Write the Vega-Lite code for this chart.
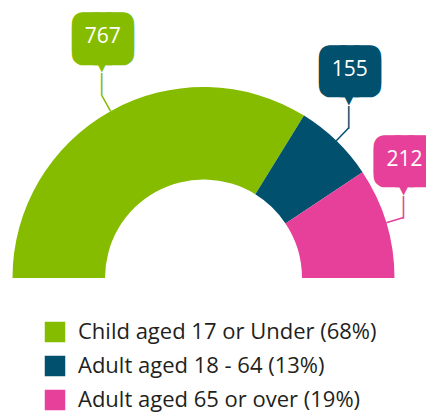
{
  "$schema": "https://vega.github.io/schema/vega-lite/v6.json",
  "width": 407,
  "height": 272,
  "autosize": {"type": "none"},
  "padding": {"left": 0, "top": 142, "right": 19, "bottom": 0},
  "background": "white",
  "config": {"view": {"stroke": null}},
  "data": {
    "values": [
      {"category": "Child aged 17 or Under (68%)", "value": 767, "order": 1},
      {"category": "Adult aged 18 - 64 (13%)", "value": 155, "order": 2},
      {"category": "Adult aged 65 or over (19%)", "value": 212, "order": 3}
    ]
  },
  "encoding": {
    "theta": {"field": "value", "type": "quantitative", "stack": true, "scale": {"range": [-1.5708, 1.5708]}},
    "order": {"field": "order", "type": "quantitative"},
    "color": {
      "field": "category",
      "type": "nominal",
      "scale": {
        "domain": ["Child aged 17 or Under (68%)", "Adult aged 18 - 64 (13%)", "Adult aged 65 or over (19%)"],
        "range": ["#86bc00", "#00506e", "#e6409b"]
      },
      "legend": {
        "orient": "none",
        "legendX": 44,
        "legendY": 179,
        "title": null,
        "padding": 0,
        "symbolType": "square",
        "symbolSize": 420,
        "symbolStrokeWidth": 0,
        "symbolOpacity": 1,
        "labelFont": "Open Sans",
        "labelFontSize": 22,
        "labelColor": "#231f20",
        "labelOffset": 12,
        "rowPadding": 12,
        "labelLimit": 0
      }
    }
  },
  "layer": [
    {"mark": {"type": "arc", "innerRadius": 98.5, "outerRadius": 191}},
    {
      "mark": {"type": "arc", "innerRadius": 191, "outerRadius": 209, "padAngle": 3.1416, "strokeWidth": 1.5},
      "encoding": {
        "stroke": {
          "field": "category", "type": "nominal", "legend": null,
          "scale": {"domain": ["Child aged 17 or Under (68%)", "Adult aged 18 - 64 (13%)", "Adult aged 65 or over (19%)"], "range": ["#86bc00", "#00506e", "#e6409b"]}
        }
      }
    },
    {
      "mark": {"type": "text", "text": "│", "font": "DejaVu Sans Mono", "fontSize": 19, "radius": 209, "align": "center", "baseline": "middle", "dy": -10}
    },
    {
      "mark": {"type": "text", "text": "▼", "font": "DejaVu Sans", "fontSize": 21, "radius": 209, "align": "center", "baseline": "middle", "dy": -31}
    },
    {
      "mark": {"type": "text", "text": ["███", "███"], "lineHeight": 4.4, "font": "DejaVu Sans Mono", "fontSize": 22, "radius": 209, "align": "center", "baseline": "middle", "dy": -58, "dx": 1, "strokeWidth": 22, "strokeJoin": "round"},
      "encoding": {
        "stroke": {
          "field": "category", "type": "nominal", "legend": null,
          "scale": {"domain": ["Child aged 17 or Under (68%)", "Adult aged 18 - 64 (13%)", "Adult aged 65 or over (19%)"], "range": ["#86bc00", "#00506e", "#e6409b"]}
        }
      }
    },
    {
      "mark": {"type": "text", "font": "Open Sans", "fontSize": 21, "radius": 209, "align": "center", "baseline": "middle", "dy": -58, "dx": 1},
      "encoding": {
        "text": {"field": "value", "type": "quantitative"},
        "color": {"value": "white"},
        "detail": {"field": "category", "type": "nominal"}
      }
    }
  ]
}
